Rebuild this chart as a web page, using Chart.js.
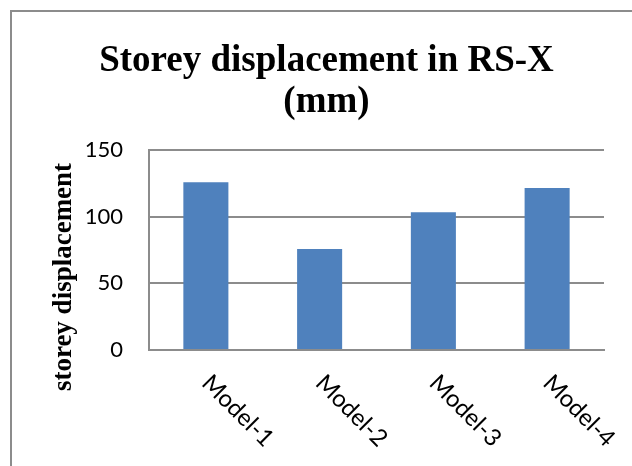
<!DOCTYPE html>
<html>
<head>
<meta charset="utf-8">
<script src="https://cdn.jsdelivr.net/npm/chart.js@4/dist/chart.umd.min.js"></script>
<style>
  html, body { margin: 0; padding: 0; background: #fff; }
  #wrap { position: relative; width: 632px; height: 466px; }
</style>
</head>
<body>
<div id="wrap"><canvas id="c" width="632" height="466"></canvas></div>
<script>
const categories = ['Model-1', 'Model-2', 'Model-3', 'Model-4'];
const displacement = [125.8, 75.8, 103.3, 121.5];
const titleLines = ['Storey displacement in RS-X', '(mm)'];
const yAxisTitle = 'storey displacement';
const yMin = 0, yMax = 150, yStep = 50;

const SANS = 'Lato';
const SERIF = '"Liberation Serif", "Times New Roman", serif';

const decor = {
  id: 'decor',
  beforeDraw(chart) {
    const ctx = chart.ctx;
    ctx.save();
    ctx.fillStyle = '#fff';
    ctx.fillRect(0, 0, chart.width, chart.height);
    ctx.strokeStyle = '#8c8c8c';
    ctx.lineWidth = 2;
    ctx.beginPath();
    ctx.moveTo(11, chart.height);
    ctx.lineTo(11, 11);
    ctx.lineTo(chart.width, 11);
    ctx.stroke();
    ctx.restore();
  },
  afterDraw(chart) {
    const ctx = chart.ctx;
    const xs = chart.scales.x;
    const area = chart.chartArea;
    ctx.save();
    // x labels rotated clockwise, starting at tick
    ctx.fillStyle = '#000';
    ctx.font = '24px ' + SANS;
    ctx.textAlign = 'left';
    ctx.textBaseline = 'middle';
    categories.forEach((lab, i) => {
      const px = xs.getPixelForValue(i);
      ctx.save();
      ctx.translate(px, area.bottom + 29);
      ctx.rotate(Math.PI / 4);
      ctx.fillText(lab, 0, 0);
      ctx.restore();
    });
    // y axis title
    ctx.font = 'bold 27px ' + SERIF;
    ctx.textAlign = 'center';
    ctx.textBaseline = 'middle';
    ctx.translate(64, 277);
    ctx.rotate(-Math.PI / 2);
    ctx.fillText(yAxisTitle, 0, 0);
    ctx.restore();
  }
};

function build() {
  new Chart(document.getElementById('c'), {
    type: 'bar',
    data: {
      labels: categories,
      datasets: [{
        data: displacement,
        backgroundColor: '#4F81BD',
        borderWidth: 0,
        barPercentage: 0.396,
        categoryPercentage: 1.0
      }]
    },
    options: {
      responsive: false,
      animation: false,
      devicePixelRatio: 1,
      layout: { padding: { left: 21, right: 0, top: 0, bottom: 0 } },
      plugins: {
        legend: { display: false },
        tooltip: { enabled: false },
        title: {
          display: true,
          text: titleLines,
          color: '#000',
          font: { family: SERIF, size: 37, weight: 'bold', lineHeight: 1.108 },
          padding: { top: 41, bottom: 27 }
        }
      },
      scales: {
        x: {
          type: 'category',
          grid: { display: false, drawTicks: false },
          border: { display: true, color: '#8c8c8c', width: 2 },
          ticks: { display: false },
          afterFit(s) { s.height = 116; }
        },
        y: {
          min: yMin,
          max: yMax,
          position: 'left',
          ticks: {
            stepSize: yStep,
            color: '#000',
            font: { family: SANS, size: 22 },
            padding: 26
          },
          grid: { color: '#8c8c8c', lineWidth: 2, drawTicks: false },
          border: { display: true, color: '#8c8c8c', width: 2 },
          afterFit(s) { s.width = 128; }
        },
        y2: {
          position: 'right',
          display: true,
          grid: { display: false, drawTicks: false },
          border: { display: false },
          ticks: { display: false },
          afterFit(s) { s.width = 28; }
        }
      }
    },
    plugins: [decor]
  });
}

Promise.all([
  document.fonts.load('22px Lato'),
  document.fonts.load('24px Lato'),
  document.fonts.load('bold 37px "Liberation Serif"'),
  document.fonts.load('bold 27px "Liberation Serif"')
]).then(build, build);
</script>
</body>
</html>
